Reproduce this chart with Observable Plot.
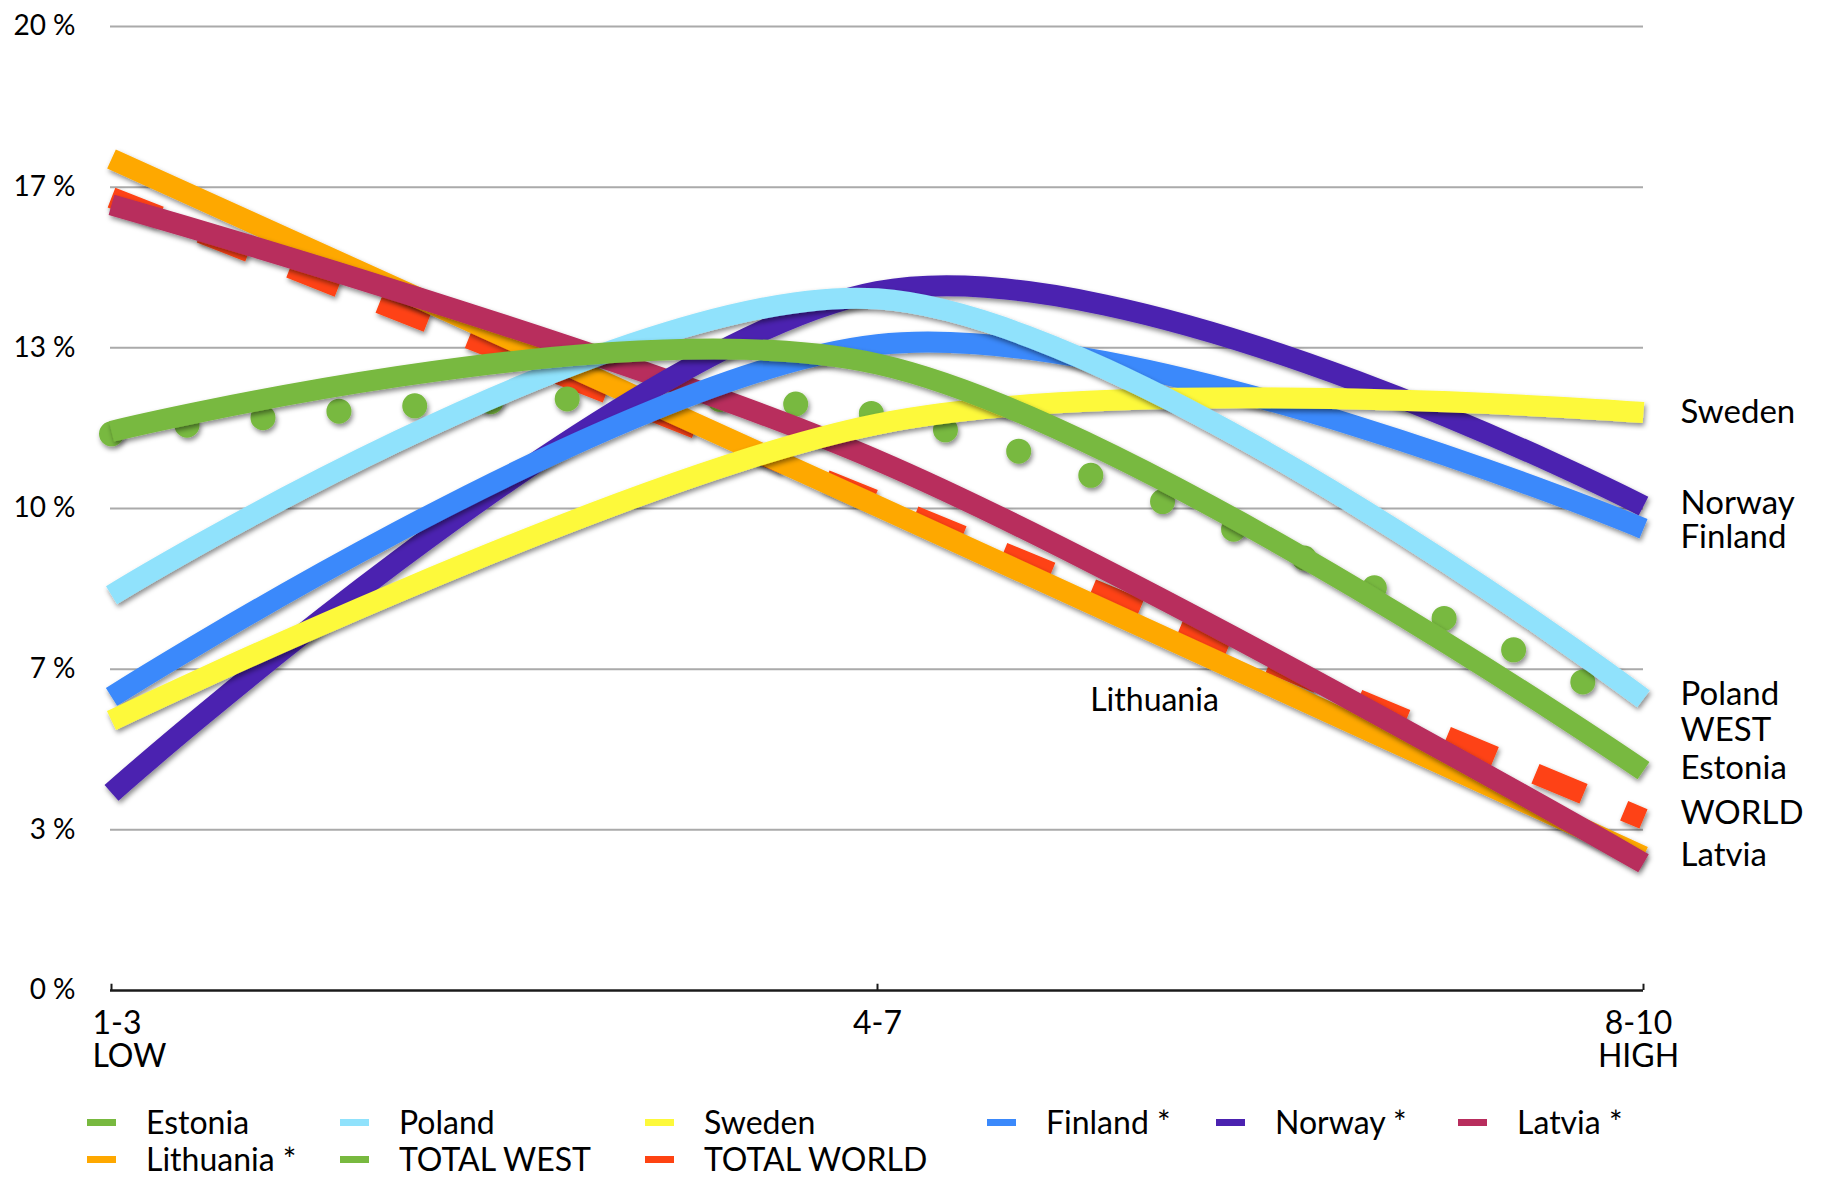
<!DOCTYPE html>
<html>
<head>
<meta charset="utf-8">
<script src="https://cdn.jsdelivr.net/npm/d3@7"></script>
<script src="https://cdn.jsdelivr.net/npm/@observablehq/plot@0.6"></script>
<style>
  html, body { margin: 0; padding: 0; background: #fff; }
  body { font-family: Lato, "Open Sans", sans-serif; color: #000; }
  #wrap { width: 1821px; height: 1179px; position: relative; overflow: hidden; }
  #legend { position: relative; width: 1821px; height: 91px; }
  .item { position: absolute; height: 30px; line-height: 30px; display: flex; align-items: center; font-size: 32px; white-space: nowrap; }
  .sw { width: 29px; height: 7px; margin-right: 30px; }
</style>
</head>
<body>
<div id="wrap"><div id="chart"></div><div id="legend"></div></div>
<script>
// ---- data ----
const categories = ["1-3", "4-7", "8-10"];
const categorySub = ["LOW", "", "HIGH"];

const estonia    = [11.6, 13.0, 4.56];
const lithuania  = [17.25, 10.05, 2.78];
const poland     = [8.2, 14.35, 6.05];
const totalWest  = [11.55, 11.95, 5.8];
const sweden     = [5.6, 11.75, 11.99];
const totalWorld = [16.45, 10.15, 3.56];
const finland    = [6.09, 13.4, 9.58];
const norway     = [4.1, 14.5, 10.05];
const latvia     = [16.3, 11.0, 2.64];

const yTicks = [0, 20 / 6, 40 / 6, 10, 80 / 6, 100 / 6, 20];
const yTickLabels = ["0 %", "3 %", "7 %", "10 %", "13 %", "17 %", "20 %"];

const endLabels = ["Sweden", "Norway\nFinland", "Poland", "WEST", "Estonia", "WORLD", "Latvia"];
const endLabelValues = [11.99, 9.75, 6.14, 5.41, 4.61, 3.69, 2.8];
const innerLabel = ["Lithuania"];
const innerLabelValue = [6.02];

const legendRow1 = ["Estonia", "Poland", "Sweden", "Finland *", "Norway *", "Latvia *"];
const legendRow2 = ["Lithuania *", "TOTAL WEST", "TOTAL WORLD"];

// ---- styles ----
const colors = {
  "Estonia": "#78b93f", "Lithuania *": "#fea800", "Poland": "#90e2fc",
  "TOTAL WEST": "#78b93f", "Sweden": "#fdf93b", "TOTAL WORLD": "#fe4312",
  "Finland *": "#3b89fb", "Norway *": "#4b22b0", "Latvia *": "#b82d5d"
};

// drawing order: bottom to top
const series = [
  ["TOTAL WORLD", totalWorld],
  ["TOTAL WEST", totalWest],
  ["Lithuania *", lithuania],
  ["Latvia *", latvia],
  ["Norway *", norway],
  ["Finland *", finland],
  ["Sweden", sweden],
  ["Poland", poland],
  ["Estonia", estonia]
];
const rows = series.map(([name, vals]) => vals.map((v, i) => ({series: name, cat: categories[i], value: v})));

const lineMarks = series.map(([name], k) => {
  const opts = {x: "cat", y: "value", stroke: colors[name], strokeWidth: 21, curve: "cardinal", strokeLinecap: "butt"};
  if (name === "TOTAL WORLD") Object.assign(opts, {strokeDasharray: "52,44"});
  if (name === "TOTAL WEST") Object.assign(opts, {strokeDasharray: "0,76.2", strokeLinecap: "round", strokeWidth: 25});
  return Plot.line(rows[k], opts);
});

const xLabel = (i) => categorySub[i] ? categories[i] + "\n" + categorySub[i] : categories[i];

const chart = Plot.plot({
  width: 1821,
  height: 1088,
  marginLeft: 110,
  marginRight: 178,
  marginTop: 26,
  marginBottom: 98,
  x: {type: "point", domain: categories, padding: 0, axis: null},
  y: {domain: [0, 20], axis: null},
  style: {fontFamily: "Lato, 'Open Sans', sans-serif", background: "white", color: "black", overflow: "visible"},
  marks: [
    Plot.ruleY(yTicks.slice(1), {stroke: "#aaaaaa", strokeWidth: 2}),
    Plot.text(yTicks, {y: d => d, text: (d, i) => yTickLabels[i], frameAnchor: "left", textAnchor: "end", dx: -35, fontSize: 28}),
    ...lineMarks,
    Plot.ruleY([0], {stroke: "#1a1a1a", strokeWidth: 2.5}),
    Plot.ruleX(categories, {x: d => d, y1: 0, y2: 0.13, stroke: "#1a1a1a", strokeWidth: 2}),
    // x labels
    Plot.text([0], {x: () => categories[0], text: xLabel, frameAnchor: "bottom", lineAnchor: "top", dy: 20, textAnchor: "start", dx: -19, fontSize: 32, lineHeight: 1.03}),
    Plot.text([1], {x: () => categories[1], text: xLabel, frameAnchor: "bottom", lineAnchor: "top", dy: 20, fontSize: 32, lineHeight: 1.03}),
    Plot.text([2], {x: () => categories[2], text: xLabel, frameAnchor: "bottom", lineAnchor: "top", dy: 20, dx: -5, fontSize: 32, lineHeight: 1.03}),
    // end labels
    Plot.text(endLabels, {x: () => categories[2], y: (d, i) => endLabelValues[i], text: d => d, textAnchor: "start", lineAnchor: "middle", dx: 37, fontSize: 33, lineHeight: 1.03}),
    Plot.text(innerLabel, {x: () => categories[1], y: (d, i) => innerLabelValue[i], text: d => d, lineAnchor: "middle", dx: 277, fontSize: 32})
  ]
});

// drop shadow for the ribbons
const svg = d3.select(chart);
const defs = svg.insert("defs", ":first-child");
const f = defs.append("filter").attr("id", "ds").attr("filterUnits", "userSpaceOnUse")
  .attr("x", 0).attr("y", 0).attr("width", 1821).attr("height", 1088);
f.append("feDropShadow").attr("dx", 1.5).attr("dy", 3).attr("stdDeviation", 2.5)
  .attr("flood-color", "#000").attr("flood-opacity", 0.45);
svg.selectAll('g[aria-label="line"] path').attr("filter", "url(#ds)");

document.getElementById("chart").appendChild(chart);

// ---- legend ----
const legend = d3.select("#legend");
const colLefts = [87, 340, 645, 987, 1216, 1458];
const rowCenters = [34, 71];
[legendRow1, legendRow2].forEach((row, r) => {
  row.forEach((name, c) => {
    const it = legend.append("div").attr("class", "item")
      .style("left", colLefts[c] + "px").style("top", (rowCenters[r] - 15) + "px");
    it.append("div").attr("class", "sw").style("background", colors[name]);
    it.append("span").text(name);
  });
});
</script>
</body>
</html>
